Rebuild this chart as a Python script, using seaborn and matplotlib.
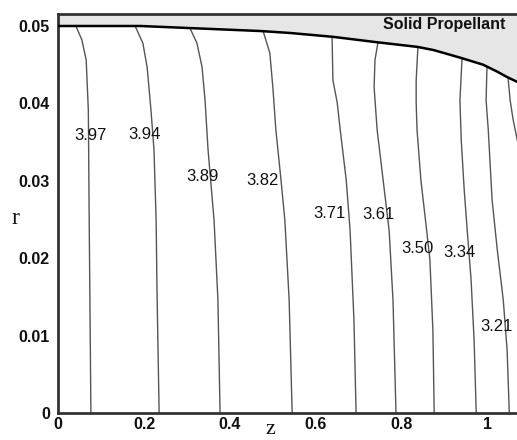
import numpy as np
import pandas as pd
import matplotlib
matplotlib.use("Agg")
import matplotlib.pyplot as plt
import seaborn as sns
from matplotlib.ticker import MultipleLocator

sns.set_theme(style="white")
plt.rcParams['font.family'] = ['Liberation Sans', 'DejaVu Sans']

# ---------------- data ----------------
levels = ["3.97", "3.94", "3.89", "3.82", "3.71", "3.61", "3.50", "3.34", "3.21", "3.1x"]

line_z = [
    [0.041, 0.055, 0.065, 0.070, 0.072, 0.076],
    [0.179, 0.197, 0.207, 0.216, 0.223, 0.228, 0.230, 0.235],
    [0.307, 0.323, 0.335, 0.342, 0.349, 0.363, 0.372, 0.377],
    [0.477, 0.493, 0.500, 0.507, 0.519, 0.528, 0.538, 0.545],
    [0.638, 0.640, 0.650, 0.657, 0.671, 0.680, 0.689, 0.694],
    [0.745, 0.738, 0.736, 0.743, 0.757, 0.771, 0.780, 0.787],
    [0.838, 0.834, 0.834, 0.836, 0.845, 0.857, 0.866, 0.873, 0.876],
    [0.941, 0.936, 0.939, 0.946, 0.953, 0.962, 0.969, 0.974],
    [0.999, 0.997, 1.002, 1.011, 1.023, 1.037, 1.046, 1.051],
    [1.048, 1.053, 1.060, 1.072],
]
line_r = [
    [0.0500, 0.0482, 0.0456, 0.0391, 0.0249, 0.0],
    [0.0500, 0.0478, 0.0447, 0.0391, 0.0340, 0.0249, 0.0159, 0.0],
    [0.0497, 0.0478, 0.0447, 0.0404, 0.0340, 0.0249, 0.0146, 0.0],
    [0.0494, 0.0465, 0.0421, 0.0366, 0.0301, 0.0249, 0.0146, 0.0],
    [0.0486, 0.0430, 0.0401, 0.0366, 0.0301, 0.0236, 0.0120, 0.0],
    [0.0479, 0.0456, 0.0421, 0.0366, 0.0301, 0.0236, 0.0146, 0.0],
    [0.0472, 0.0430, 0.0401, 0.0366, 0.0301, 0.0243, 0.0198, 0.0107, 0.0],
    [0.0459, 0.0404, 0.0353, 0.0288, 0.0236, 0.0172, 0.0094, 0.0],
    [0.0447, 0.0404, 0.0366, 0.0275, 0.0211, 0.0146, 0.0081, 0.0],
    [0.0434, 0.0404, 0.0379, 0.0346],
]

label_text = ["3.97", "3.94", "3.89", "3.82", "3.71", "3.61", "3.50", "3.34", "3.21"]
label_z = [0.074, 0.202, 0.335, 0.477, 0.633, 0.745, 0.838, 0.936, 1.021]
label_r = [0.0358, 0.0360, 0.0306, 0.0301, 0.0258, 0.0256, 0.0212, 0.0208, 0.0112]

surf_z = [0.0, 0.191, 0.471, 0.540, 0.640, 0.743, 0.837, 0.874, 0.937, 0.990, 1.023, 1.046, 1.069, 1.08]
surf_r = [0.0500, 0.0500, 0.04935, 0.0491, 0.0486, 0.0479, 0.0473, 0.0469, 0.0459, 0.0450, 0.0441, 0.0434, 0.0428, 0.0426]

x_ticks = [0, 0.2, 0.4, 0.6, 0.8, 1]
x_tick_labels = ["0", "0.2", "0.4", "0.6", "0.8", "1"]
y_ticks = [0, 0.01, 0.02, 0.03, 0.04, 0.05]
y_tick_labels = ["0", "0.01", "0.02", "0.03", "0.04", "0.05"]

# ---------------- build table ----------------
rows = []
for lev, zs, rs in zip(levels, line_z, line_r):
    for i, (zz, rr) in enumerate(zip(zs, rs)):
        rows.append({"level": lev, "order": i, "z": zz, "r": rr})
df = pd.DataFrame(rows)
surf = pd.DataFrame({"z": surf_z, "r": surf_r})

# ---------------- figure ----------------
fig = plt.figure(figsize=(5.17, 4.40), dpi=100)
ax = fig.add_axes([58.3 / 517, 27 / 440, (517 - 58.3) / 517, (413 - 14) / 440])

xmax = 1.069
ymax = 0.05155

# solid propellant region
ax.fill_between(surf["z"], surf["r"], ymax + 0.001, color="#e6e6e6", zorder=1, lw=0)

sns.lineplot(data=df, x="z", y="r", units="level", estimator=None, sort=False,
             color="#555555", lw=1.0, ax=ax, zorder=2, legend=False)
sns.lineplot(data=surf, x="z", y="r", sort=False, color="black", lw=1.8, ax=ax, zorder=3)

for t, zz, rr in zip(label_text, label_z, label_r):
    ax.text(zz, rr, t, ha="center", va="center", fontsize=12, color="#111111", zorder=4)

ax.text(0.899, 0.0502, "Solid Propellant", ha="center", va="center",
        fontsize=11.5, fontweight="bold", color="#111111", zorder=4)

ax.set_xlim(0, xmax)
ax.set_ylim(0, ymax)
ax.set_xticks(x_ticks)
ax.set_xticklabels(x_tick_labels)
ax.set_yticks(y_ticks)
ax.set_yticklabels(y_tick_labels)
ax.xaxis.set_minor_locator(MultipleLocator(0.05))
ax.yaxis.set_minor_locator(MultipleLocator(0.002))
ax.tick_params(axis="both", which="major", direction="in", length=7, width=1.5,
               color="#222222", labelsize=11.5)
ax.tick_params(axis="y", which="major", pad=6)
ax.tick_params(axis="x", which="major", pad=3)
ax.tick_params(axis="both", which="minor", direction="in", length=4, width=1.0,
               color="#222222")
ax.tick_params(top=False, right=False, which="both")
for lab in ax.get_xticklabels() + ax.get_yticklabels():
    lab.set_fontweight("bold")
    lab.set_color("#111111")

for side in ["left", "bottom", "top"]:
    ax.spines[side].set_visible(True)
    ax.spines[side].set_color("#333333")
    ax.spines[side].set_linewidth(2.0)
ax.spines["right"].set_visible(False)

ax.set_xlabel("")
ax.set_ylabel("")
fig.text(15 / 517, 1 - 218 / 440, "r", family=["Liberation Serif"], fontsize=17,
         ha="center", va="center", color="#111111")
fig.text(270 / 517, 1 / 440, "z", family=["Liberation Serif"], fontsize=16,
         ha="center", va="bottom", color="#111111")

fig.savefig("out.png", dpi=100)
